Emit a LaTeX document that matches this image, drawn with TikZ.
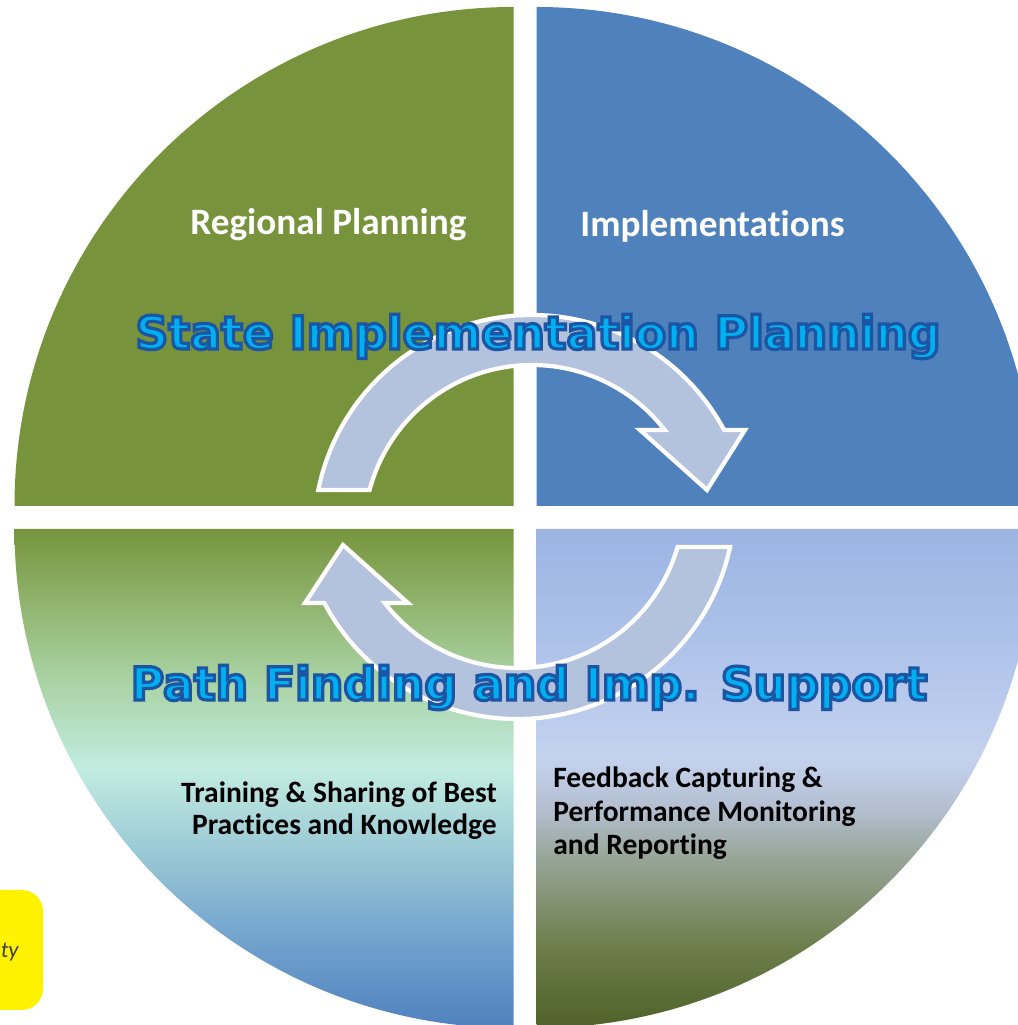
\documentclass[tikz,border=0pt]{standalone}
\usepackage{fontspec}
\setmainfont{Carlito}[Ligatures=NoCommon]
\newfontfamily\titlefont{DejaVu Sans}[BoldFeatures={FakeBold=7}]
\usetikzlibrary{calc}
\definecolor{qgreen}{HTML}{77933C}
\definecolor{qblue}{HTML}{4F81BD}
\definecolor{arrowfill}{HTML}{B3C2DD}
\definecolor{tcyan}{HTML}{00B0F0}
\definecolor{tdark}{HTML}{1B55A3}
\definecolor{notegray}{HTML}{404040}
% bottom-left gradient stops
\definecolor{blA}{HTML}{4F81BD}
\definecolor{blB}{HTML}{6E9FCC}
\definecolor{blC}{HTML}{9CCAD6}
\definecolor{blD}{HTML}{C2ECE1}
\definecolor{blE}{HTML}{A9D2A3}
\definecolor{blF}{HTML}{8FB26B}
\definecolor{blG}{HTML}{77953E}
% bottom-right gradient stops
\definecolor{brA}{HTML}{4F6228}
\definecolor{brB}{HTML}{6C7D4A}
\definecolor{brC}{HTML}{97A597}
\definecolor{brD}{HTML}{B3BFD0}
\definecolor{brE}{HTML}{C4D2EE}
\definecolor{brF}{HTML}{AFC3EA}
\definecolor{brG}{HTML}{9BB4E2}
\pgfdeclareverticalshading{blshade}{100bp}{color(0bp)=(blA); color(25bp)=(blA); color(33bp)=(blB); color(43bp)=(blC); color(51bp)=(blD); color(60bp)=(blE); color(68bp)=(blF); color(75bp)=(blG); color(100bp)=(blG)}
\pgfdeclareverticalshading{brshade}{100bp}{color(0bp)=(brA); color(25bp)=(brA); color(33bp)=(brB); color(42bp)=(brC); color(47bp)=(brD); color(52bp)=(brE); color(63bp)=(brF); color(75bp)=(brG); color(100bp)=(brG)}
% outline (stroke) colour for the emboldened title text
\newcommand{\outlinestroke}{\special{pdf:code 0.106 0.333 0.639 RG}}
\tikzset{
  quadlabel/.style={inner sep=0pt, text=white, font=\fontsize{21.2}{25}\selectfont\bfseries},
  bodylabel/.style={inner sep=0pt, text=black, font=\fontsize{16.8}{20}\selectfont\bfseries},
  bigtitle/.style={inner sep=0pt, text=tcyan, font=\titlefont\fontsize{26}{30}\selectfont\bfseries},
  cyclearrow/.style={fill=arrowfill, draw=white, line width=2.4pt, line join=miter},
}
\begin{document}
\begin{tikzpicture}[x=0.02cm, y=0.02cm]
\useasboundingbox (0,0) rectangle (1018,1025);
\clip (0,0) rectangle (1018,1025);
% quadrants
\coordinate (ctl) at (513.5,519);
\coordinate (ctr) at (536.5,519);
\coordinate (cbl) at (513.5,496);
\coordinate (cbr) at (536.5,496);
\fill[qgreen] (ctl) -- ++(0,499) arc[start angle=90, end angle=180, radius=499] -- cycle;
\fill[qblue] (ctr) -- ++(499,0) arc[start angle=0, end angle=90, radius=499] -- cycle;
\shade[shading=blshade] (cbl) -- ++(-499,0) arc[start angle=180, end angle=270, radius=499] -- cycle;
\shade[shading=brshade] (cbr) -- ++(0,-499) arc[start angle=270, end angle=360, radius=499] -- cycle;
% quadrant labels
\node[quadlabel, anchor=base west] (regional) at (190,790) {Regional Planning};
\node[quadlabel, anchor=base west] (impl) at (580,788) {Implementations};
% cycle arrows
\coordinate (U) at (532,492);
\coordinate (L) at (517,524);
\draw[cyclearrow] ($(U)+(168.6:218)$) arc[start angle=168.6, end angle=28.2, radius=218]
   -- (745,595) -- (707,535) -- (640,595) -- ($(U)+(37.8:168)$)
   arc[start angle=37.8, end angle=165.2, radius=168] -- cycle;
\draw[cyclearrow] ($(L)+(-12.2:218)$) arc[start angle=-12.2, end angle=-152.1, radius=218]
   -- (305,422) -- (343,480) -- (408,422) -- ($(L)+(217.6:167)$)
   arc[start angle=217.6, end angle=344, radius=167] -- cycle;
% titles
\node[bigtitle, anchor=base] (title1) at (538,676) {\outlinestroke State Implementation Planning};
\node[bigtitle, anchor=base] (title2) at (529,325) {\outlinestroke Path Finding and Imp. Support};
% body labels
\node[bodylabel, anchor=base east] (train1) at (497,222) {Training \& Sharing of Best};
\node[bodylabel, anchor=base east] (train2) at (497,190) {Practices and Knowledge};
\node[bodylabel, anchor=base west] (feed1) at (553,237) {Feedback Capturing \&};
\node[bodylabel, anchor=base west] (feed2) at (553,203) {Performance Monitoring};
\node[bodylabel, anchor=base west] (feed3) at (553,170) {and Reporting};
% yellow note
\fill[yellow, rounded corners=12] (-30,15) rectangle (43,135);
\node[inner sep=0pt, anchor=base east, text=notegray, font=\fontsize{13}{15}\selectfont\itshape] (note) at (19,67) {ty};
\end{tikzpicture}
\end{document}
